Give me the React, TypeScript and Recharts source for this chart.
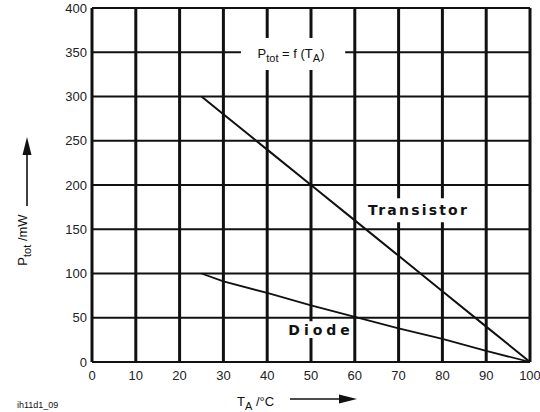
import { LineChart, Line, XAxis, YAxis, CartesianGrid, ReferenceArea } from "recharts";

const temps = [25, 30, 40, 50, 60, 70, 80, 90, 100];
const transistorMw = [300, 280, 240, 200, 160, 120, 80, 40, 0];
const diodeMw = [100, 91, 78, 64, 51, 38, 26, 12.5, 0];
const xTicks = [0, 10, 20, 30, 40, 50, 60, 70, 80, 90, 100];
const yTicks = [0, 50, 100, 150, 200, 250, 300, 350, 400];

const data = temps.map((t, i) => ({ t, transistor: transistorMw[i], diode: diodeMw[i] }));

const font = "'Liberation Sans', Arial, sans-serif";
const boldFont = "'DejaVu Sans', sans-serif";
const ink = "#111";

function TitleLabel({ viewBox }: any) {
  const cx = viewBox.x + viewBox.width / 2;
  const cy = viewBox.y + viewBox.height / 2;
  return (
    <text x={cx - 2} y={cy + 4} textAnchor="middle" fontFamily={font} fontSize={13} fill={ink}>
      P<tspan fontSize={11} dy={4}>tot</tspan>
      <tspan dy={-4}> = f (T</tspan>
      <tspan fontSize={11} dy={4}>A</tspan>
      <tspan dy={-4}>)</tspan>
    </text>
  );
}

function BoldLabel({ viewBox, text, spacing }: any) {
  const cx = viewBox.x + viewBox.width / 2;
  const cy = viewBox.y + viewBox.height / 2;
  return (
    <text x={cx + spacing / 2} y={cy + 5} textAnchor="middle" fontFamily={boldFont} fontSize={14}
      fontWeight="bold" letterSpacing={spacing} fill={ink}>
      {text}
    </text>
  );
}

function Decorations() {
  return (
    <svg width={540} height={412} style={{ position: "absolute", left: 0, top: 0, pointerEvents: "none" }}>
      <g fontFamily={font} fill={ink}>
        <text x={27} y={240} fontSize={13} textAnchor="middle" transform="rotate(-90 27 240)">
          P<tspan fontSize={11} dy={4}>tot</tspan>
          <tspan dy={-4}> /mW</tspan>
        </text>
        <line x1={27} y1={206} x2={27} y2={152} stroke={ink} strokeWidth={1.6} />
        <polygon points="27,137 22.5,155 31.5,155" fill={ink} />

        <text x={237} y={406} fontSize={13}>
          T<tspan fontSize={11} dy={4}>A</tspan>
          <tspan dy={-4}> /°C</tspan>
        </text>
        <line x1={290} y1={399} x2={342} y2={399} stroke={ink} strokeWidth={1.6} />
        <polygon points="357,399 339,394.5 339,403.5" fill={ink} />

        <text x={17} y={408} fontSize={9}>ih11d1_09</text>
      </g>
    </svg>
  );
}

export default function App() {
  return (
    <div style={{ position: "absolute", left: 0, top: 0, width: 540, height: 412, background: "#fff" }}>
      <LineChart width={540} height={412} data={data} margin={{ top: 8, right: 10, left: 0, bottom: 0 }}>
        <CartesianGrid horizontal={false} stroke={ink} strokeWidth={3} />
        <CartesianGrid vertical={false} stroke={ink} strokeWidth={2} />
        <XAxis
          dataKey="t"
          type="number"
          domain={[0, 100]}
          ticks={xTicks}
          height={50}
          tickSize={0}
          tickMargin={9}
          axisLine={false}
          tick={{ fontSize: 13, fill: "#222", fontFamily: font }}
        />
        <YAxis
          type="number"
          domain={[0, 400]}
          ticks={yTicks}
          width={92}
          tickSize={0}
          tickMargin={5}
          axisLine={false}
          tick={{ fontSize: 13, fill: "#222", fontFamily: font }}
        />
        <ReferenceArea x1={34} x2={57.8} y1={330} y2={366} fill="#fff" fillOpacity={1} stroke="none"
          ifOverflow="visible" label={<TitleLabel />} />
        <ReferenceArea x1={62.3} x2={86.3} y1={158} y2={185} fill="#fff" fillOpacity={1} stroke="none"
          ifOverflow="visible" label={<BoldLabel text="Transistor" spacing={2.2} />} />
        <ReferenceArea x1={44.3} x2={59.4} y1={27} y2={46} fill="#fff" fillOpacity={1} stroke="none"
          ifOverflow="visible" label={<BoldLabel text="Diode" spacing={4} />} />
        <Line dataKey="transistor" stroke={ink} strokeWidth={2} dot={false} isAnimationActive={false} />
        <Line dataKey="diode" stroke={ink} strokeWidth={1.8} dot={false} isAnimationActive={false} />
      </LineChart>
      <Decorations />
    </div>
  );
}
